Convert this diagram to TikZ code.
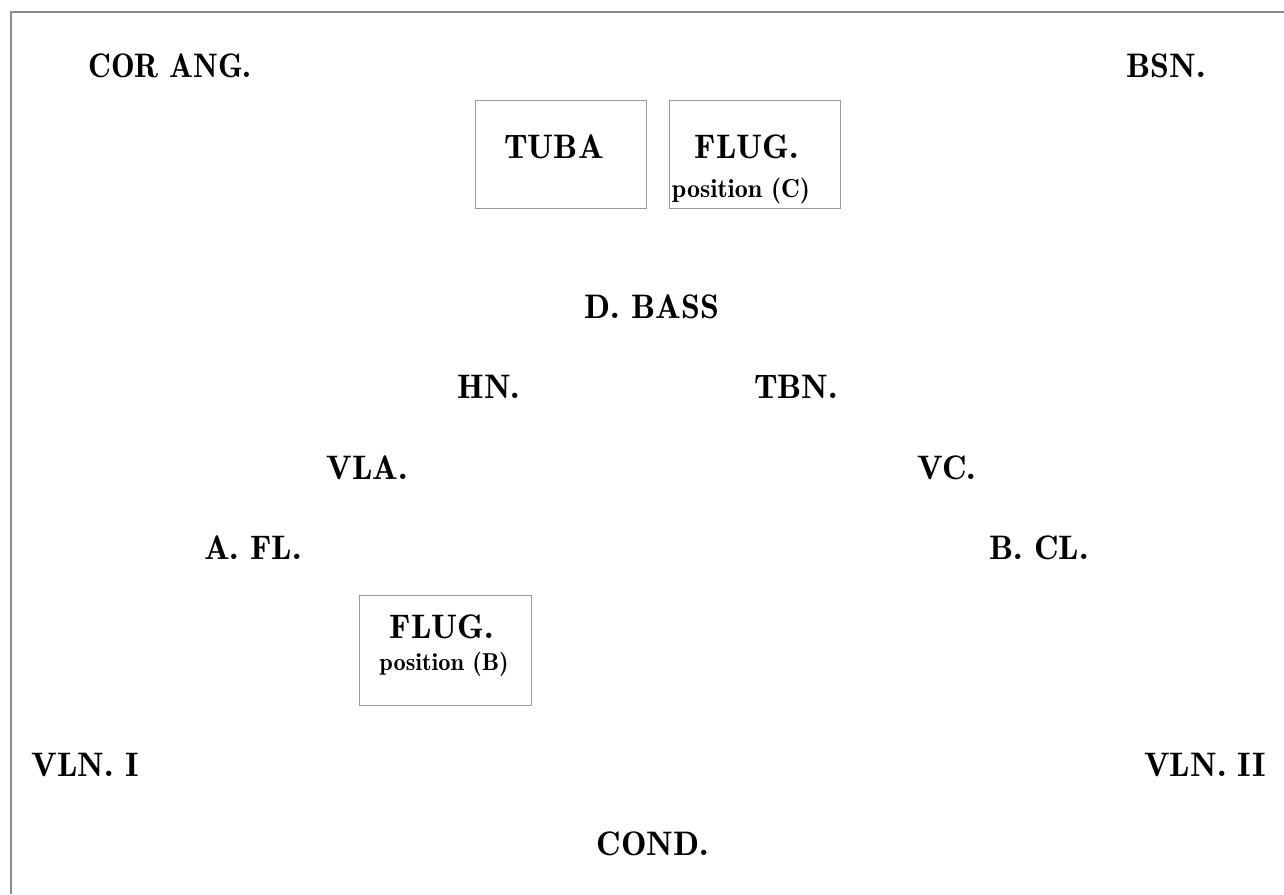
\documentclass[tikz,border=0pt]{standalone}
\begin{document}
\begin{tikzpicture}[x=0.5pt,y=-0.5pt,
  lab/.style={anchor=base,inner sep=0pt,font=\fontsize{17}{20}\fontseries{b}\selectfont},
  sub/.style={anchor=base,inner sep=0pt,font=\fontsize{12.2}{14}\fontseries{b}\selectfont},
  boxed/.style={draw=black!40,line width=0.5pt,inner sep=0pt,anchor=north west},
  framed/.style={draw=black!45,line width=0.6pt}]
\useasboundingbox (0,0) rectangle (1284,894);
% frame
\coordinate (fr1) at (11,12);
\coordinate (fr2) at (1284,12);
\coordinate (fr3) at (11,894);
\draw[framed] (fr2) -- (fr1) -- (fr3);
% boxes
\node[boxed,minimum width=85.5pt,minimum height=54pt] (tubabox) at (475,100) {};
\node[boxed,minimum width=85.5pt,minimum height=54pt] (flugcbox) at (669,100) {};
\node[boxed,minimum width=86pt,minimum height=55pt] (flugbbox) at (359,595) {};
% labels
\node[lab,xscale=0.93] (corang) at (170,77) {COR ANG.};
\node[lab] (bsn) at (1166,77) {BSN.};
\node[lab] (tuba) at (554,158) {TUBA};
\node[lab] (flugc) at (747,158) {FLUG.};
\node[sub,font=\fontsize{13}{15}\fontseries{b}\selectfont] (posc) at (741,197) {position (C)};
\node[lab] (dbass) at (652,318) {D. BASS};
\node[lab] (hn) at (489,398) {HN.};
\node[lab] (tbn) at (796,398) {TBN.};
\node[lab] (vla) at (367,479) {VLA.};
\node[lab] (vc) at (947,479) {VC.};
\node[lab] (afl) at (253,559) {A. FL.};
\node[lab] (bcl) at (1039,559) {B. CL.};
\node[lab] (flugb) at (442,638) {FLUG.};
\node[sub] (posb) at (444,670) {position (B)};
\node[lab] (vln1) at (85,776) {VLN. I};
\node[lab] (vln2) at (1205,776) {VLN. II};
\node[lab] (cond) at (653,855) {COND.};
\end{tikzpicture}
\end{document}
